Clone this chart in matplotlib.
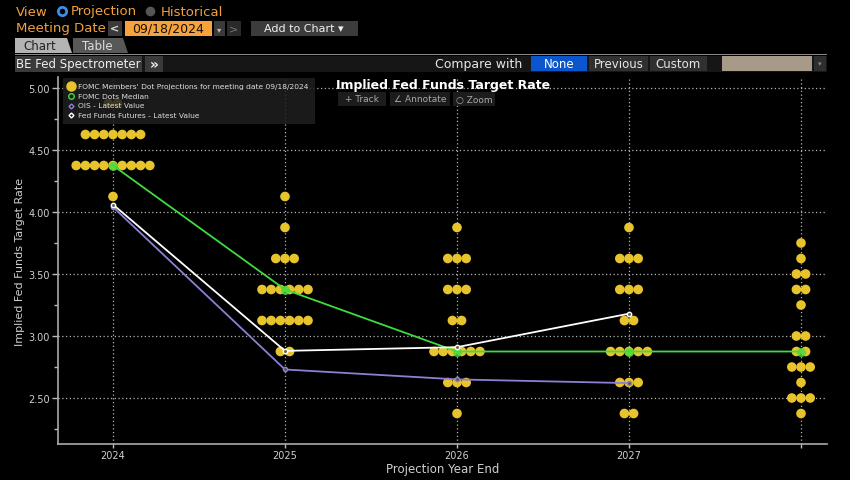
import matplotlib.pyplot as plt
import numpy as np
from matplotlib.patches import Rectangle, Polygon
from matplotlib.lines import Line2D

plt.rcParams["font.family"] = ["DejaVu Sans"]

# ---- data ----
years = [2024, 2025, 2026, 2027, 2028]
year_labels = ["2024", "2025", "2026", "2027", ""]

dot_levels = {
    2024: [4.875, 4.625, 4.375, 4.125],
    2025: [4.125, 3.875, 3.625, 3.375, 3.125, 2.875],
    2026: [3.875, 3.625, 3.375, 3.125, 2.875, 2.625, 2.375],
    2027: [3.875, 3.625, 3.375, 3.125, 2.875, 2.625, 2.375],
    2028: [3.75, 3.625, 3.5, 3.375, 3.25, 3.0, 2.875, 2.75, 2.625, 2.5, 2.375],
}
dot_counts = {
    2024: [2, 7, 9, 1],
    2025: [1, 1, 3, 6, 6, 2],
    2026: [1, 3, 3, 2, 6, 3, 1],
    2027: [1, 3, 3, 2, 5, 3, 2],
    2028: [1, 1, 2, 2, 1, 2, 2, 3, 1, 3, 1],
}

median = [4.375, 3.375, 2.875, 2.875, 2.875]
futures = [4.06, 2.88, 2.91, 3.18]
ois = [4.04, 2.73, 2.65, 2.62]

# ---- colours ----
BG = "#000000"
ORANGE = "#f2a03d"
DOT = "#e8c42c"
GREEN = "#3fdc3f"
PURPLE = "#8c7fd6"
GRID = "#b5b5b5"
TXT = "#cfcfcf"

W, H = 850, 481
fig = plt.figure(figsize=(W / 100, H / 100), dpi=100)
fig.patch.set_facecolor(BG)


def fx(x):
    return x / W


def fy(y):
    return 1 - y / H


def box(x0, y0, x1, y1, color, z=1):
    fig.add_artist(Rectangle((fx(x0), fy(y1)), (x1 - x0) / W, (y1 - y0) / H,
                             transform=fig.transFigure, facecolor=color,
                             edgecolor="none", zorder=z))


def txt(x, y, s, **kw):
    kw.setdefault("va", "center")
    kw.setdefault("zorder", 5)
    fig.text(fx(x), fy(y), s, **kw)


def mark(x, y, z=7, **kw):
    fig.add_artist(Line2D([fx(x)], [fy(y)], transform=fig.transFigure,
                          linestyle="none", zorder=z, **kw))


# ---- header UI ----
txt(16, 12, "View", color=ORANGE, fontsize=9.5)
mark(62, 12, marker="o", markersize=6, markerfacecolor="black",
     markeredgecolor="#3a8ee8", markeredgewidth=2)
txt(71, 12, "Projection", color=ORANGE, fontsize=9.5)
mark(150, 12, marker="o", markersize=7, markerfacecolor="#555555",
     markeredgecolor="none")
txt(161, 12, "Historical", color=ORANGE, fontsize=9.5)

txt(16, 29, "Meeting Date", color=ORANGE, fontsize=9.5)
box(108, 22, 122, 37, "#3a3a3a")
txt(115, 29.5, "<", color="#dddddd", fontsize=8, ha="center", fontweight="bold")
box(125, 22, 212, 37, "#f7a23b")
txt(168.5, 29.5, "09/18/2024", color="#111111", fontsize=9, ha="center")
box(214, 22, 225, 37, "#3a3a3a")
txt(219.5, 29.5, "▾", color="#bbbbbb", fontsize=6, ha="center")
box(227, 22, 241, 37, "#2a2a2a")
txt(234, 29.5, ">", color="#777777", fontsize=8, ha="center")
box(251, 22, 358, 37, "#3c3c3c")
txt(304, 29.5, "Add to Chart ▾", color="#f0f0f0", fontsize=8, ha="center")

# tabs
fig.add_artist(Polygon([(fx(15), fy(54)), (fx(15), fy(39)), (fx(67), fy(39)),
                        (fx(72), fy(54))], closed=True, transform=fig.transFigure,
                       facecolor="#b4b4b4", edgecolor="none", zorder=2))
fig.add_artist(Polygon([(fx(73), fy(54)), (fx(73), fy(39)), (fx(123), fy(39)),
                        (fx(128), fy(54))], closed=True, transform=fig.transFigure,
                       facecolor="#585858", edgecolor="none", zorder=2))
txt(40, 46.5, "Chart", color="#222222", fontsize=8.5, ha="center")
txt(97, 46.5, "Table", color="#dddddd", fontsize=8.5, ha="center")
box(15, 54.5, 827, 56, "#8a8a8a")

box(15, 57, 827, 73, "#161616")
box(15, 57, 142, 73, "#3a3a3a")
txt(78.5, 65, "BE Fed Spectrometer", color="#f0f0f0", fontsize=8.5, ha="center")
box(145, 57, 163, 73, "#3a3a3a")
txt(154, 65, "»", color="#f0f0f0", fontsize=10, ha="center", fontweight="bold")
txt(479, 64.5, "Compare with", color="#e6e6e6", fontsize=9, ha="center")
box(531, 57, 587, 72, "#0b56cc")
txt(559, 64.5, "None", color="#ffffff", fontsize=8.5, ha="center")
box(589, 57, 648, 72, "#303030")
txt(618.5, 64.5, "Previous", color="#e6e6e6", fontsize=8.5, ha="center")
box(650, 57, 707, 72, "#303030")
txt(678.5, 64.5, "Custom", color="#e6e6e6", fontsize=8.5, ha="center")
box(722, 57, 812, 72, "#a89a88")
box(814, 57, 826, 72, "#2e2e2e")
txt(820, 64.5, "▾", color="#888888", fontsize=5, ha="center")

# ---- main axes ----
ax = fig.add_axes([fx(58), fy(445), (827 - 58) / W, (445 - 78) / H])
ax.set_facecolor(BG)
ax.set_xlim(2024 - 55 / 172, 2024 + 714 / 172)
ax.set_ylim(5 - 356 / 124, 5 + 11 / 124)

ax.set_xticks(years)
ax.set_xticklabels(year_labels)
ax.set_yticks([2.5, 3.0, 3.5, 4.0, 4.5, 5.0])
ax.set_yticks(np.arange(2.25, 5.01, 0.25), minor=True)
ax.yaxis.set_major_formatter(plt.FuncFormatter(lambda v, p: f"{v:.2f}"))
ax.tick_params(axis="y", which="major", colors="#bbbbbb", labelcolor=TXT,
               labelsize=7, length=4, width=1, pad=2)
ax.tick_params(axis="y", which="minor", colors="#bbbbbb", length=3, width=1)
ax.tick_params(axis="x", colors="#bbbbbb", labelcolor=TXT, labelsize=7,
               length=3, width=1, pad=1.5)
ax.grid(True, which="major", color=GRID, linestyle=(0, (1, 2)), linewidth=0.9)
ax.set_axisbelow(True)
for s in ["top", "right"]:
    ax.spines[s].set_visible(False)
for s in ["left", "bottom"]:
    ax.spines[s].set_color("#aaaaaa")
    ax.spines[s].set_linewidth(1.2)

# dots: about 9 px apart horizontally
step = 9.2 / 172
for yr in years:
    for lvl, n in zip(dot_levels[yr], dot_counts[yr]):
        offs = (np.arange(n) - (n - 1) / 2) * step
        ax.scatter(yr + offs, [lvl] * n, s=48, color=DOT, edgecolors="none",
                   zorder=3)

ax.plot(years, median, color=GREEN, linewidth=1.3, zorder=4)
ax.plot(years, median, linestyle="none", marker="o", markersize=5.5,
        markerfacecolor=GREEN, markeredgecolor=GREEN, alpha=0.75, zorder=5)
ax.plot(years[:4], ois, color=PURPLE, linewidth=1.3, marker="o", markersize=3,
        markerfacecolor="#555555", markeredgecolor=PURPLE, zorder=4)
ax.plot(years[:4], futures, color="#ffffff", linewidth=1.3, marker="o",
        markersize=3.2, markerfacecolor="#666666", markeredgecolor="#ffffff",
        zorder=5)

ax.set_ylabel("Implied Fed Funds Target Rate", color=TXT, fontsize=8, labelpad=2)
ax.set_xlabel("Projection Year End", color=TXT, fontsize=8.5, labelpad=1)

# ---- legend ----
box(63, 79, 315, 125, (0.12, 0.12, 0.12, 0.85), z=6)
leg = [
    ("FOMC Members' Dot Projections for meeting date 09/18/2024",
     dict(marker="o", markersize=6.5, markerfacecolor=DOT, markeredgecolor=DOT)),
    ("FOMC Dots Median",
     dict(marker="o", markersize=4, markerfacecolor="none", markeredgecolor=GREEN)),
    ("OIS - Latest Value",
     dict(marker="D", markersize=2.5, markerfacecolor="none", markeredgecolor=PURPLE)),
    ("Fed Funds Futures - Latest Value",
     dict(marker="D", markersize=2.5, markerfacecolor="none", markeredgecolor="#ffffff")),
]
for i, (label, mk) in enumerate(leg):
    yy = [87, 97, 106.5, 116][i]
    mark(71, yy, **mk)
    txt(78, yy, label, color="#dddddd", fontsize=5.4, zorder=7)

# ---- title & toolbar ----
txt(443, 86, "Implied Fed Funds Target Rate", color="#ffffff", fontsize=9,
    fontweight="bold", ha="center", zorder=8)
for x0, x1, lab in [(338, 386, "+ Track"), (390, 450, "∠ Annotate"),
                    (453, 495, "○ Zoom")]:
    box(x0, 93, x1, 107, "#1c1c1c", z=6)
    txt((x0 + x1) / 2, 100, lab, color="#a8a8a8", fontsize=6.5, ha="center",
        zorder=7)

plt.savefig("out.png", dpi=100, facecolor=BG)
